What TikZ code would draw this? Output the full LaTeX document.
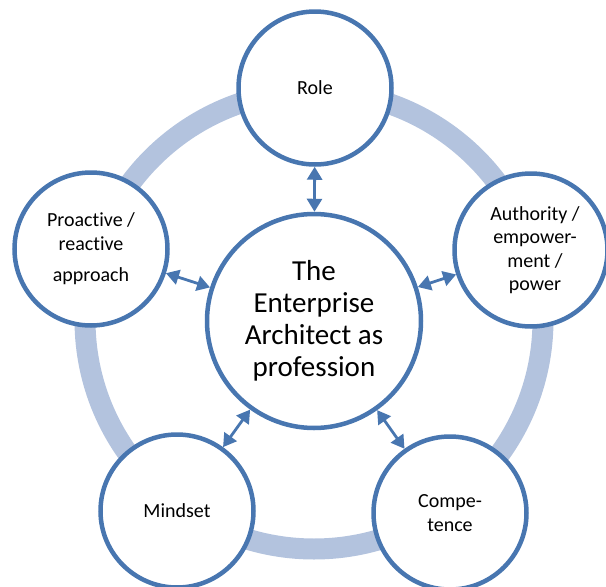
\documentclass[tikz,border=0pt]{standalone}
\usepackage{fontspec}
\setmainfont{Carlito}[Ligatures=NoCommon]
\usetikzlibrary{arrows.meta}
\definecolor{ringblue}{RGB}{179,195,222}
\definecolor{edgeblue}{RGB}{72,118,176}
\tikzset{
  sat/.style={circle,draw=edgeblue,line width=4.5pt,fill=white,minimum size=153pt,inner sep=0pt,align=center,font=\fontsize{20}{23.5}\selectfont},
  hub/.style={circle,draw=edgeblue,line width=4.5pt,fill=white,minimum size=214pt,inner sep=0pt,align=center,font=\fontsize{29}{32}\selectfont},
  link/.style={draw=edgeblue,line width=2.8pt,{Triangle[length=13pt,width=15pt]}-{Triangle[length=13pt,width=15pt]}}
}
\begin{document}
\begin{tikzpicture}[x=1pt,y=-1pt]
\useasboundingbox (0,0) rectangle (606,587);
\draw[ringblue,line width=21pt] (314,320) circle (229);
\node[hub] (c) at (314,321) {The\\Enterprise\\Architect as\\profession};
\node[sat] (role) at (315,88) {Role};
\node[sat] (auth) at (531,250) {\hspace*{8pt}Authority /\\\hspace*{8pt}empower-\\\hspace*{8pt}ment /\\\hspace*{8pt}power};
\node[sat] (pro) at (91,249) {Proactive /\\reactive\\[8pt]approach};
\node[sat] (mind) at (177,511) {Mindset};
\node[sat] (comp) at (450,513) {Compe-\\tence};
\draw[link] (c) -- (role);
\draw[link] (c) -- (auth);
\draw[link] (c) -- (pro);
\draw[link] (c) -- (mind);
\draw[link] (c) -- (comp);
\end{tikzpicture}
\end{document}
